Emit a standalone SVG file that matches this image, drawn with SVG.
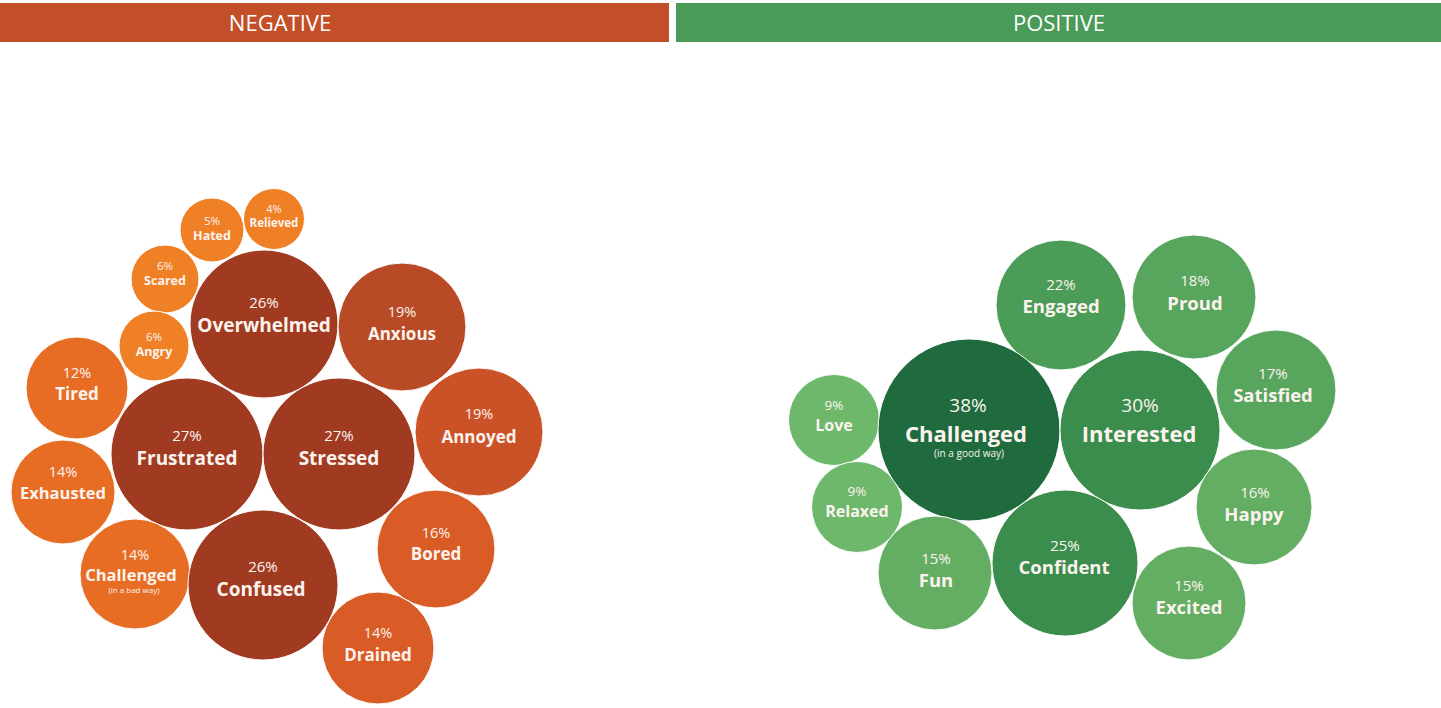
<svg xmlns="http://www.w3.org/2000/svg" width="1441" height="708" viewBox="0 0 1441 708">
<style>
text{font-family:"Open Sans","Liberation Sans",sans-serif;text-anchor:middle;fill:#FCF3EE}
.hd{font-size:22px;fill:#FFFFFF}
.p{font-weight:400}
.l{font-weight:700}
.s{font-weight:400}
.n1{fill:#A03B22}.n2{fill:#B84A26}.n3{fill:#CB5227}.n4{fill:#D95B26}.n5{fill:#E86D24}.n6{fill:#F08026}
.g1{fill:#1F6B3E}.g2{fill:#3A8D4C}.g3{fill:#4B9C57}.g4{fill:#58A55E}.g5{fill:#63AE63}.g6{fill:#6DB86A}
circle{stroke:#FFFFFF;stroke-width:1}
</style>
<rect width="1441" height="708" fill="#FFFFFF"/>
<g id="header-negative"><rect x="0" y="3" width="669" height="39" fill="#C24F28"/><text class="hd" x="280" y="31">NEGATIVE</text></g>
<g id="header-positive"><rect x="676" y="3" width="765" height="39" fill="#4A9A58"/><text class="hd" x="1059" y="31">POSITIVE</text></g>
<g id="connectors"/>
<g id="negative">
<g id="hated"><circle class="n6" cx="212" cy="230" r="32"/><text class="p" x="212" y="225" font-size="11.5">5%</text><text class="l" x="212" y="240" font-size="12.5">Hated</text></g>
<g id="relieved"><circle class="n6" cx="274" cy="219" r="30.5"/><text class="p" x="274" y="213" font-size="11">4%</text><text class="l" x="274" y="227" font-size="11.5">Relieved</text></g>
<g id="scared"><circle class="n6" cx="165" cy="279" r="34"/><text class="p" x="165" y="270" font-size="11.5">6%</text><text class="l" x="165" y="285" font-size="12.5">Scared</text></g>
<g id="angry"><circle class="n6" cx="154" cy="346" r="35"/><text class="p" x="154" y="341" font-size="11.5">6%</text><text class="l" x="154" y="356" font-size="12.5">Angry</text></g>
<g id="overwhelmed"><circle class="n1" cx="264" cy="324" r="74"/><text class="p" x="264" y="308" font-size="15">26%</text><text class="l" x="264" y="332" font-size="19">Overwhelmed</text></g>
<g id="anxious"><circle class="n2" cx="402" cy="327" r="64"/><text class="p" x="402" y="317" font-size="14.5">19%</text><text class="l" x="402" y="340" font-size="17">Anxious</text></g>
<g id="tired"><circle class="n5" cx="77" cy="388" r="51"/><text class="p" x="77" y="378" font-size="14.5">12%</text><text class="l" x="77" y="400" font-size="17">Tired</text></g>
<g id="exhausted"><circle class="n5" cx="63" cy="492" r="52"/><text class="p" x="63" y="477" font-size="14.5">14%</text><text class="l" x="63" y="499" font-size="16.5">Exhausted</text></g>
<g id="frustrated"><circle class="n1" cx="187" cy="454" r="76"/><text class="p" x="187" y="441" font-size="15">27%</text><text class="l" x="187" y="465" font-size="19">Frustrated</text></g>
<g id="stressed"><circle class="n1" cx="339" cy="454" r="76"/><text class="p" x="339" y="441" font-size="15">27%</text><text class="l" x="339" y="465" font-size="19">Stressed</text></g>
<g id="annoyed"><circle class="n3" cx="479" cy="432" r="64"/><text class="p" x="479" y="419" font-size="14.5">19%</text><text class="l" x="479" y="443" font-size="17">Annoyed</text></g>
<g id="challenged-bad"><circle class="n5" cx="135" cy="574" r="55"/><text class="p" x="135" y="560" font-size="14.5">14%</text><text class="l" x="131" y="581" font-size="16.5">Challenged</text><text class="s" x="134" y="593" font-size="8">(in a bad way)</text></g>
<g id="confused"><circle class="n1" cx="263" cy="585" r="75"/><text class="p" x="263" y="572" font-size="15">26%</text><text class="l" x="261" y="596" font-size="19">Confused</text></g>
<g id="bored"><circle class="n4" cx="436" cy="549" r="59"/><text class="p" x="436" y="538" font-size="14.5">16%</text><text class="l" x="436" y="560" font-size="17">Bored</text></g>
<g id="drained"><circle class="n4" cx="378" cy="648" r="56"/><text class="p" x="378" y="638" font-size="14.5">14%</text><text class="l" x="378" y="661" font-size="17">Drained</text></g>
</g>
<g id="positive">
<g id="engaged"><circle class="g3" cx="1061" cy="305" r="65"/><text class="p" x="1061" y="290" font-size="15">22%</text><text class="l" x="1061" y="313" font-size="18.5">Engaged</text></g>
<g id="proud"><circle class="g4" cx="1194" cy="297" r="62"/><text class="p" x="1195" y="286" font-size="15">18%</text><text class="l" x="1195" y="310" font-size="18.5">Proud</text></g>
<g id="satisfied"><circle class="g4" cx="1276" cy="390" r="60"/><text class="p" x="1273" y="379" font-size="15">17%</text><text class="l" x="1273" y="402" font-size="18.5">Satisfied</text></g>
<g id="love"><circle class="g6" cx="834" cy="420" r="45.5"/><text class="p" x="834" y="410" font-size="13.5">9%</text><text class="l" x="834" y="431" font-size="16">Love</text></g>
<g id="relaxed"><circle class="g6" cx="857" cy="507" r="45.5"/><text class="p" x="857" y="496" font-size="13.5">9%</text><text class="l" x="857" y="517" font-size="16">Relaxed</text></g>
<g id="challenged-good"><circle class="g1" cx="969" cy="430" r="91"/><text class="p" x="968" y="412" font-size="19">38%</text><text class="l" x="966" y="442" font-size="22">Challenged</text><text class="s" x="969" y="457" font-size="10">(in a good way)</text></g>
<g id="interested"><circle class="g2" cx="1140" cy="430" r="80"/><text class="p" x="1140" y="412" font-size="19">30%</text><text class="l" x="1139" y="442" font-size="22">Interested</text></g>
<g id="happy"><circle class="g5" cx="1254" cy="507" r="58"/><text class="p" x="1255" y="498" font-size="15">16%</text><text class="l" x="1254" y="521" font-size="18.5">Happy</text></g>
<g id="fun"><circle class="g5" cx="935" cy="573" r="57"/><text class="p" x="936" y="564" font-size="15">15%</text><text class="l" x="936" y="587" font-size="18.5">Fun</text></g>
<g id="confident"><circle class="g2" cx="1065" cy="563" r="73"/><text class="p" x="1065" y="551" font-size="15">25%</text><text class="l" x="1064" y="574" font-size="18.5">Confident</text></g>
<g id="excited"><circle class="g5" cx="1189" cy="603" r="57"/><text class="p" x="1189" y="591" font-size="15">15%</text><text class="l" x="1189" y="614" font-size="18.5">Excited</text></g>
</g>
</svg>
